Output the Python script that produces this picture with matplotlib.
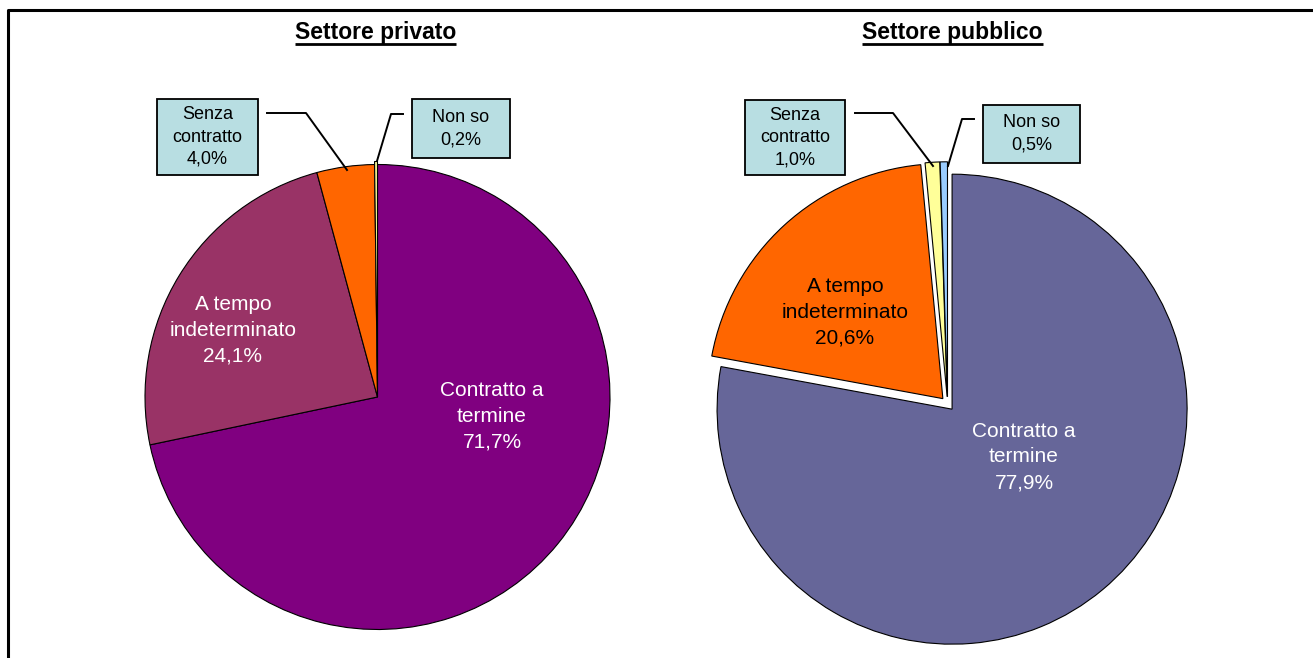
import matplotlib.pyplot as plt
from matplotlib.patches import Rectangle

plt.rcParams['font.family'] = ['Liberation Sans', 'DejaVu Sans']

W, H = 1313, 658

# categorie e valori (%)
etichette = ['Contratto a\ntermine', 'A tempo\nindeterminato', 'Senza\ncontratto', 'Non so']
privato = [71.7, 24.1, 4.0, 0.2]
pubblico = [77.9, 20.6, 1.0, 0.5]

colori_privato = ['#800080', '#993366', '#FF6600', '#FFFF99']
colori_pubblico = ['#666699', '#FF6600', '#FFFF99', '#99CCFF']


def py(y):
    # coordinate in pixel dall'alto -> coordinate dati
    return H - y


def pct(v):
    return f'{v:.1f}'.replace('.', ',') + '%'


fig = plt.figure(figsize=(W / 100, H / 100), dpi=100)
ax = fig.add_axes([0, 0, 1, 1])

wp = dict(edgecolor='black', linewidth=0.8)
ax.pie(privato, colors=colori_privato, center=(377.5, py(397)), radius=232.5,
       startangle=90, counterclock=False, explode=[0, 0, 0, 3], wedgeprops=wp)
ax.pie(pubblico, colors=colori_pubblico, center=(947.6, py(403.8)), radius=235,
       startangle=90, counterclock=False, explode=[7, 7, 7, 7], wedgeprops=wp)

ax.set_xlim(0, W)
ax.set_ylim(0, H)
ax.set_aspect('equal')
ax.axis('off')

# cornice
ax.plot([8, 8, W + 5], [-5, py(10), py(10)], color='black', lw=2.2,
        solid_capstyle='butt', clip_on=False)

# titoli sottolineati
fig.canvas.draw()
rend = fig.canvas.get_renderer()
for x, titolo in [(375.5, 'Settore privato'), (952.5, 'Settore pubblico')]:
    t = ax.text(x, py(33), titolo, ha='center', va='center',
                fontsize=16.5, fontweight='bold')
    bb = t.get_window_extent(renderer=rend)
    ax.plot([bb.x0, bb.x1], [py(44), py(44)], color='black', lw=2,
            solid_capstyle='butt')

# etichette interne
interne = [
    (492, 416, etichette[0] + '\n' + pct(privato[0]), 'white'),
    (233, 330, etichette[1] + '\n' + pct(privato[1]), 'white'),
    (1024, 457, etichette[0] + '\n' + pct(pubblico[0]), 'white'),
    (845, 312, etichette[1] + '\n' + pct(pubblico[1]), 'black'),
]
for x, y, s, c in interne:
    ax.text(x, py(y), s, ha='center', va='center', color=c,
            fontsize=15, linespacing=1.45)

# etichette nei riquadri con linee di richiamo
riquadri = [
    ((157, 99, 258, 175), etichette[2] + '\n' + pct(privato[2]),
     [(267, 113), (306, 113), (347, 170)]),
    ((412, 99, 510, 158), etichette[3] + '\n' + pct(privato[3]),
     [(403, 114), (391, 114), (377, 161)]),
    ((745, 100, 845, 175), etichette[2] + '\n' + pct(pubblico[2]),
     [(855, 113), (893, 113), (933, 166)]),
    ((983, 105, 1080, 163), etichette[3] + '\n' + pct(pubblico[3]),
     [(974, 119), (962, 119), (948, 166)]),
]
for (x0, y0, x1, y1), s, linea in riquadri:
    ax.add_patch(Rectangle((x0, py(y1)), x1 - x0, y1 - y0,
                           facecolor='#B8DEE2', edgecolor='black', lw=1.3))
    ax.text((x0 + x1) / 2, py((y0 + y1) / 2), s, ha='center', va='center',
            fontsize=13, linespacing=1.4)
    xs = [p[0] for p in linea]
    ys = [py(p[1]) for p in linea]
    ax.plot(xs, ys, color='black', lw=1.4)

fig.savefig('out.png', dpi=100)
